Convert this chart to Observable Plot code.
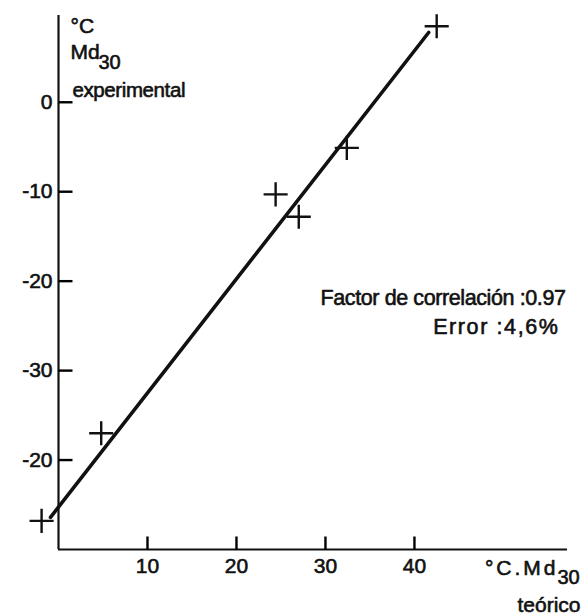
<!DOCTYPE html>
<html><head><meta charset="utf-8">
<script src="https://cdn.jsdelivr.net/npm/d3@7"></script>
<script src="https://cdn.jsdelivr.net/npm/@observablehq/plot@0.6"></script>
<style>
html,body{margin:0;padding:0;background:#fff;overflow:hidden}
.wide text{letter-spacing:3px}
.spaced text{letter-spacing:1.6px}
.tight text{letter-spacing:-0.4px}
g[aria-label="x-axis tick label"] text, g[aria-label="y-axis tick label"] text{stroke:#111;stroke-width:0.6px;paint-order:stroke}
</style></head><body><div id="chart"></div>
<script>
// measured points (theoretical Md30 vs experimental Md30, °C)
const pointsX = [-1.9, 4.8, 24.4, 27.0, 32.4, 42.5];
const pointsY = [-46.8, -37.0, -10.3, -12.8, -5.1, 8.5];
// fitted line endpoints
const fitX = [-0.9, 41.6];
const fitY = [-46.4, 7.8];
// axes
const xDomain = [0, 57.2];
const yDomain = [-50, 9.7];
const xTicks = [10, 20, 30, 40];
const xTickLabels = ["10", "20", "30", "40"];
const yTicks = [0, -10, -20, -30, -40];
const yTickLabels = ["0", "-10", "-20", "-30", "-20"];
// texts
const yLabelUnit = "°C";
const yLabelMain = "Md";
const yLabelSub = "30";
const yLabelWord = "experimental";
const xLabelMain = "°C.Md";
const xLabelSub = "30";
const xLabelWord = "teórico";
const noteCorr = "Factor de correlación :0.97";
const noteErr = "Error :4,6%";

const points = pointsX.map((x, i) => ({x, y: pointsY[i]}));
const fit = fitX.map((x, i) => ({x, y: fitY[i]}));
const font = "'Liberation Sans', Arial, sans-serif";
const ink = "#111";

const W = 583, H = 614, ML = 58, MR = 16, MT = 15, MB = 65;
const frameW = W - ML - MR, frameH = H - MT - MB;
// inward tick lengths in pixels, converted to data units along the scales
const tickPxX = 13, tickPxY = 14;
const xTickTop = yDomain[0] + tickPxX * (yDomain[1] - yDomain[0]) / frameH;
const yTickEnd = xDomain[0] + tickPxY * (xDomain[1] - xDomain[0]) / frameW;

const txt = (s, o) => Plot.text([s], {text: d => d, textAnchor: "start", lineAnchor: "bottom",
  fill: ink, stroke: ink, strokeWidth: 0.6, fontSize: 21, ...o});

const chart = Plot.plot({
  width: W,
  height: H,
  marginLeft: ML,
  marginRight: MR,
  marginTop: MT,
  marginBottom: MB,
  style: {fontFamily: font, fontSize: "21px", color: ink, background: "#fff"},
  x: {domain: xDomain, label: null},
  y: {domain: yDomain, label: null},
  marks: [
    Plot.ruleX([xDomain[0]], {strokeWidth: 2.2, stroke: ink}),
    Plot.ruleY([yDomain[0]], {strokeWidth: 2.2, stroke: ink}),
    Plot.link(xTicks, {x1: d => d, x2: d => d, y1: yDomain[0], y2: xTickTop, strokeWidth: 2.4, stroke: "#000"}),
    Plot.link(yTicks, {y1: d => d, y2: d => d, x1: xDomain[0], x2: yTickEnd, strokeWidth: 2.4, stroke: "#000"}),
    Plot.axisX(xTicks, {tickSize: 0, tickPadding: 9, label: null,
      tickFormat: d => xTickLabels[xTicks.indexOf(d)], fontSize: 21}),
    Plot.axisY(yTicks, {tickSize: 0, tickPadding: 6, label: null,
      tickFormat: d => yTickLabels[yTicks.indexOf(d)], fontSize: 21}),
    Plot.line(fit, {x: "x", y: "y", stroke: ink, strokeWidth: 3.6}),
    Plot.dot(points, {x: "x", y: "y", symbol: "plus", r: 7.8, stroke: ink, strokeWidth: 2.4}),
    // y axis label
    txt(yLabelUnit, {frameAnchor: "top-left", dx: 12, dy: 17}),
    txt(yLabelMain, {frameAnchor: "top-left", dx: 12, dy: 43}),
    txt(yLabelSub, {frameAnchor: "top-left", dx: 40, dy: 53, fontSize: 20}),
    txt(yLabelWord, {frameAnchor: "top-left", dx: 14, dy: 81, fontSize: 20.5, className: "tight"}),
    // x axis label
    txt(xLabelMain, {frameAnchor: "bottom-right", textAnchor: "end", dx: -9, dy: 25, className: "wide"}),
    txt(xLabelSub, {frameAnchor: "bottom-right", dx: -10, dy: 34, fontSize: 20}),
    txt(xLabelWord, {frameAnchor: "bottom-right", textAnchor: "end", dx: 13, dy: 62}),
    // notes
    txt(noteCorr, {frameAnchor: "top-right", textAnchor: "end", dx: -2, dy: 289, fontSize: 21.5, className: "tight"}),
    txt(noteErr, {frameAnchor: "top-right", textAnchor: "end", dx: -8, dy: 318, fontSize: 21.5, className: "spaced"})
  ]
});
document.getElementById("chart").appendChild(chart);
</script></body></html>
